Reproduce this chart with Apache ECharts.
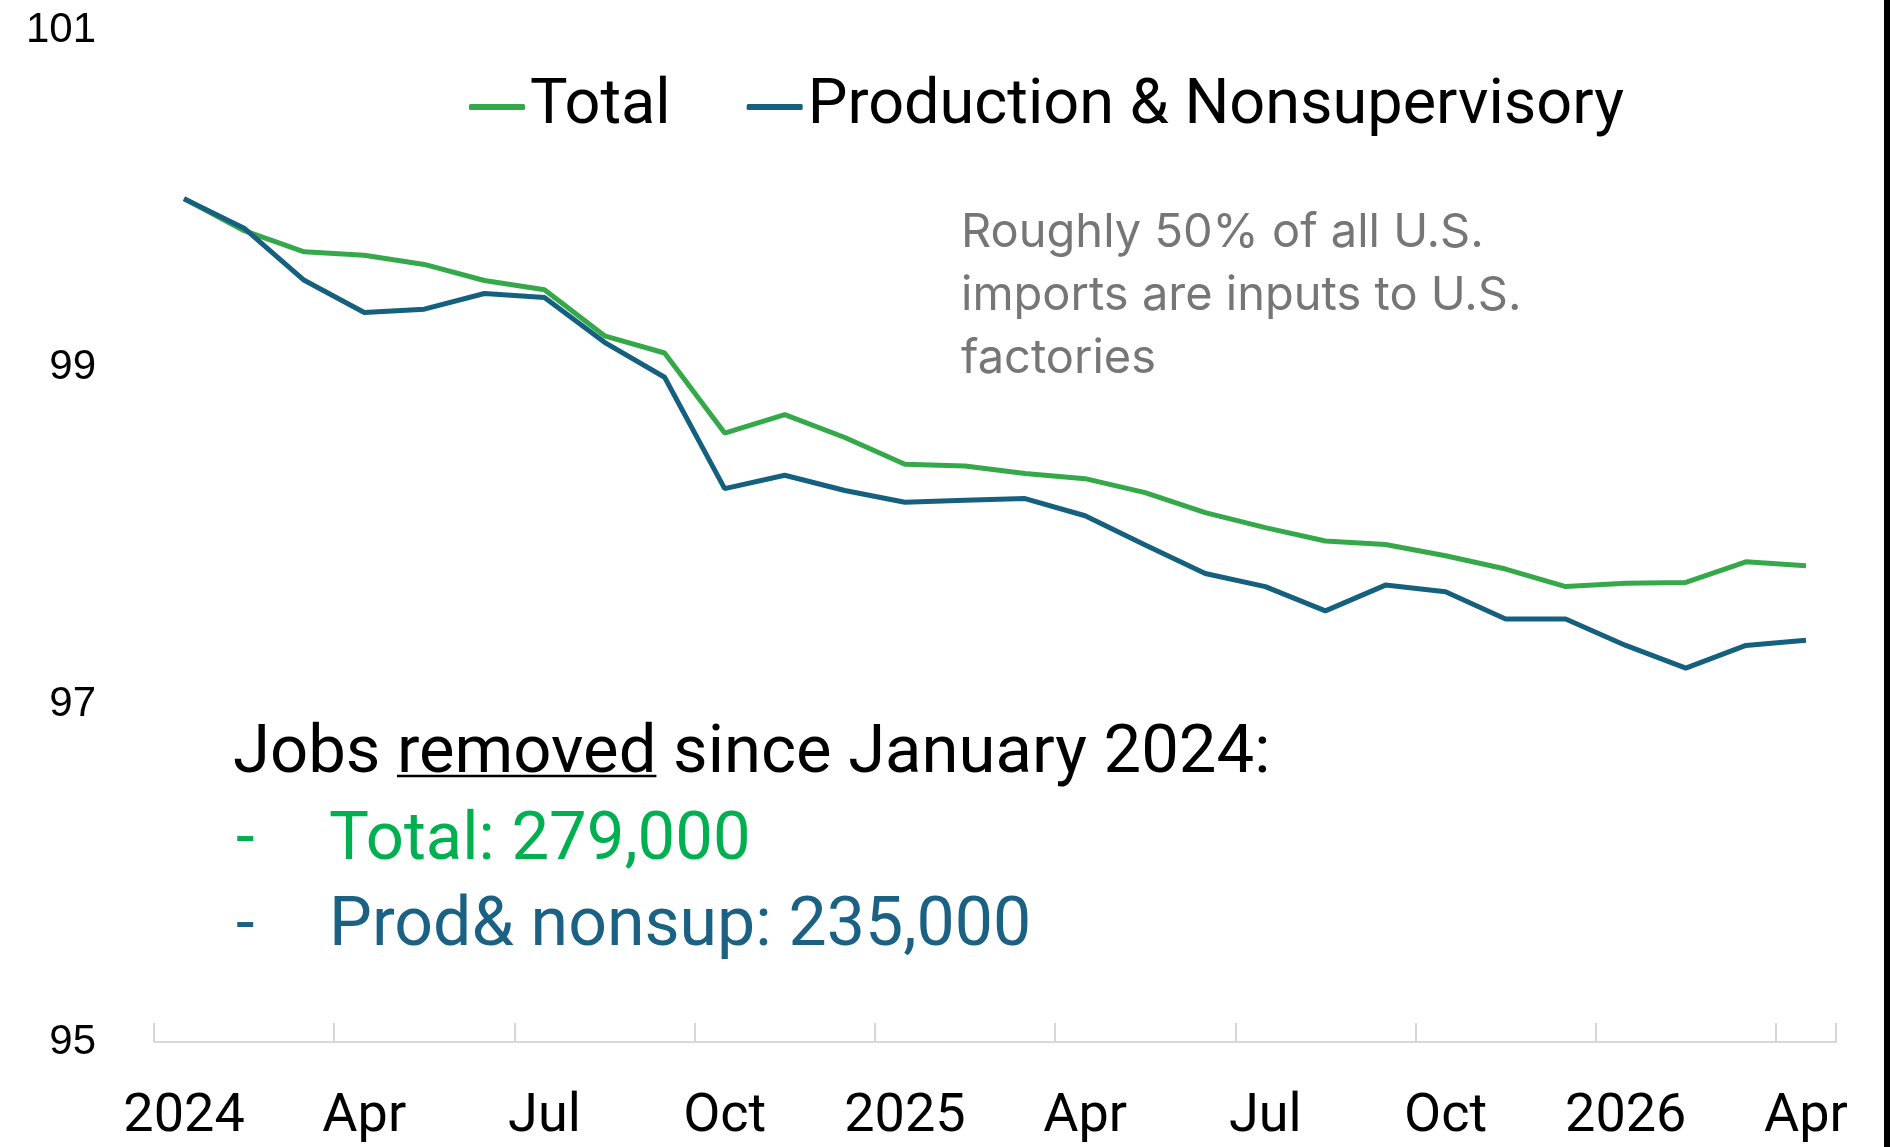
<!DOCTYPE html>
<html>
<head>
<meta charset="utf-8">
<script src="https://cdn.jsdelivr.net/npm/echarts@6/dist/echarts.min.js"></script>
<style>
  html, body { margin: 0; padding: 0; background: #fff; }
  #chart { width: 1890px; height: 1147px; }
</style>
</head>
<body>
<div id="chart"></div>
<script>
// months Jan 2024 .. Apr 2026, index Jan 2024 = 100
var months = ['2024', 'Feb', 'Mar', 'Apr', 'May', 'Jun', 'Jul', 'Aug', 'Sep', 'Oct', 'Nov', 'Dec',
  '2025', 'Feb', 'Mar', 'Apr', 'May', 'Jun', 'Jul', 'Aug', 'Sep', 'Oct', 'Nov', 'Dec',
  '2026', 'Feb', 'Mar', 'Apr'];

var totalIdx = [100.0, 99.81, 99.685, 99.664, 99.61, 99.515, 99.46, 99.187, 99.085, 98.61, 98.72, 98.584,
  98.425, 98.415, 98.37, 98.34, 98.257, 98.139, 98.05, 97.97, 97.95, 97.883, 97.804, 97.70,
  97.72, 97.725, 97.847, 97.824];

var prodIdx = [100.0, 99.825, 99.516, 99.325, 99.345, 99.438, 99.414, 99.148, 98.941, 98.281, 98.36, 98.27,
  98.2, 98.212, 98.222, 98.12, 97.946, 97.778, 97.70, 97.556, 97.709, 97.67, 97.508, 97.508,
  97.351, 97.217, 97.351, 97.382];

var yTicks = [95, 97, 99, 101];

var note = ['Roughly 50% of all U.S.', 'imports are inputs to U.S.', 'factories'];
var jobsHead = 'Jobs removed since January 2024:';
var jobsTotal = 'Total: 279,000';
var jobsProd = 'Prod& nonsup: 235,000';

var FONT = 'Roboto';
var green = '#35a94a';
var blue = '#16607f';

var ctx = document.createElement('canvas').getContext('2d');

function textWidth(str, font) {
  ctx.font = font;
  return ctx.measureText(str).width;
}

// zrender draws text with textBaseline 'middle'; find where the cap height sits from that
function capMetrics(font) {
  ctx.font = font;
  ctx.textBaseline = 'middle';
  var m = ctx.measureText('H');
  return { mid: (m.actualBoundingBoxDescent - m.actualBoundingBoxAscent) / 2, base: m.actualBoundingBoxDescent };
}

var headFont = '67px ' + FONT;
var noteFont = '47px Inter';
var headCap = capMetrics(headFont);
var noteCap = capMetrics(noteFont);

var headY = 748 - headCap.mid;
var ulY = headY + headCap.base + 4;
var ulStart = 233 + textWidth('Jobs ', headFont);
var ulEnd = ulStart + textWidth('removed', headFont);

var graphics = [];
note.forEach(function (line, i) {
  graphics.push({
    type: 'text', x: 961, y: 230 + i * 63 - noteCap.mid,
    style: { text: line, font: noteFont, fill: '#767676', verticalAlign: 'middle' }
  });
});
graphics.push(
  {
    type: 'text', x: 233, y: headY,
    style: { text: jobsHead, font: headFont, fill: '#000', verticalAlign: 'middle' }
  },
  {
    type: 'line', shape: { x1: ulStart, y1: ulY, x2: ulEnd, y2: ulY },
    style: { stroke: '#000', lineWidth: 2.5 }
  },
  {
    type: 'text', x: 236, y: 835 - headCap.mid,
    style: { text: '-', font: headFont, fill: '#00b050', verticalAlign: 'middle' }
  },
  {
    type: 'text', x: 329, y: 835 - headCap.mid,
    style: { text: jobsTotal, font: headFont, fill: '#00b050', verticalAlign: 'middle' }
  },
  {
    type: 'text', x: 236, y: 921 - headCap.mid,
    style: { text: '-', font: headFont, fill: '#1a6184', verticalAlign: 'middle' }
  },
  {
    type: 'text', x: 329, y: 921 - headCap.mid,
    style: { text: jobsProd, font: '68px ' + FONT, fill: '#1a6184', verticalAlign: 'middle' }
  },
  // black frame edge on the right of the slide
  {
    type: 'rect', right: 0, top: 0,
    shape: { width: 6, height: 1147 },
    style: { fill: '#000' }
  }
);

var chart = echarts.init(document.getElementById('chart'));

chart.setOption({
  animation: false,
  color: [green, blue],
  grid: { left: 154, right: 54, top: 30, bottom: 102 },
  legend: {
    left: 464,
    top: 67,
    itemWidth: 56,
    itemHeight: 6,
    itemGap: 76,
    icon: 'roundRect',
    textStyle: { fontFamily: FONT, fontSize: 63, color: '#000', lineHeight: 70 },
    data: ['Total', 'Production & Nonsupervisory']
  },
  xAxis: {
    type: 'category',
    data: months,
    boundaryGap: true,
    axisLine: { lineStyle: { color: '#d9d9d9', width: 2 } },
    axisTick: { show: true, inside: true, length: 19, interval: 2, lineStyle: { color: '#d6d6d6', width: 2 } },
    axisLabel: { interval: 2, fontFamily: FONT, fontSize: 54, lineHeight: 60, color: '#000', margin: 45 }
  },
  yAxis: {
    type: 'value',
    min: 95,
    max: 101,
    interval: 2,
    splitLine: { show: false },
    axisLine: { show: false },
    axisTick: { show: false },
    axisLabel: {
      fontFamily: 'Liberation Sans', fontSize: 42, color: '#000', margin: 58,
      formatter: function (v) { return yTicks.indexOf(v) >= 0 ? v : ''; }
    }
  },
  series: [
    {
      name: 'Total', type: 'line', data: totalIdx,
      showSymbol: false, lineStyle: { width: 5, color: green }
    },
    {
      name: 'Production & Nonsupervisory', type: 'line', data: prodIdx,
      showSymbol: false, lineStyle: { width: 5, color: blue }
    }
  ],
  graphic: graphics
});
</script>
</body>
</html>
